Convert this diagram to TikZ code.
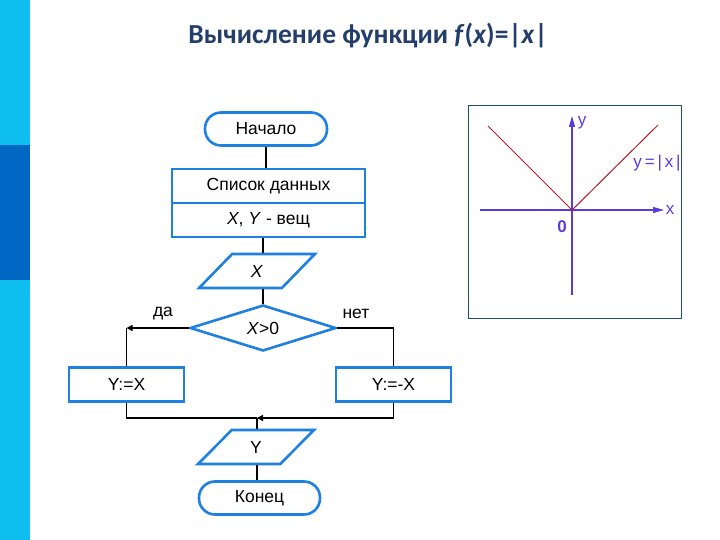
\documentclass[tikz,border=0pt]{standalone}
\usepackage{fontspec}
\setmainfont{Liberation Sans}
\newfontfamily\titlefont{Carlito}
\usetikzlibrary{shapes.geometric,arrows.meta,calc}
\definecolor{stripl}{RGB}{14,190,238}
\definecolor{stripd}{RGB}{0,102,196}
\definecolor{titlec}{RGB}{36,62,108}
\definecolor{boxc}{RGB}{30,128,224}
\definecolor{axisc}{RGB}{88,60,220}
\definecolor{curvec}{RGB}{175,30,35}
\definecolor{framec}{RGB}{30,80,100}
\begin{document}
\begin{tikzpicture}[x=1pt,y=-1pt,
  every node/.style={font=\fontsize{17.5}{20}\selectfont},
  blk/.style={draw=boxc,line width=2.6pt},
  term/.style={blk,rectangle,rounded corners=16pt,minimum height=33pt,inner sep=0pt},
  procbox/.style={blk,rectangle,minimum height=34pt,inner sep=0pt},
  para/.style={blk,trapezium,trapezium left angle=56,trapezium right angle=124,trapezium stretches=true,minimum width=116pt,minimum height=34pt,inner sep=0pt},
  dec/.style={blk,diamond,minimum width=146pt,minimum height=46pt,inner sep=0pt},
  conn/.style={line width=1.4pt,black},
  arr/.style={conn,-{Triangle[length=6pt,width=6pt]}},
  glab/.style={text=axisc,font=\fontsize{17}{19}\selectfont,inner sep=0pt}]
\useasboundingbox (0,0) rectangle (720,540);
% side strip
\fill[stripl] (0,0) rectangle (30,145);
\fill[stripd] (0,145) rectangle (30,280);
\fill[stripl] (0,280) rectangle (30,540);
% title
\node[font=\titlefont\fontsize{27.5}{30}\selectfont\bfseries,text=titlec] (title) at (368,36) {Вычисление функции \textit{f}(\textit{x})=|\textit{x}|};
% flowchart
\node[term,minimum width=122pt] (start) at (266,129) {Начало};
\node[procbox,minimum width=193pt] (list1) at (268.5,186) {Список данных};
\node[procbox,minimum width=193pt] (list2) at (268.5,220) {\textit{X}, \textit{Y} - вещ};
\node[para] (inX) at (257,271) {\textit{X}};
\node[dec] (cond) at (263,328) {\textit{X}>0};
\node (yeslab) at (163,314) {да};
\node (nolab) at (356,314) {нет};
\node[procbox,minimum width=115pt] (yes) at (126.5,384.5) {Y:=X};
\node[procbox,minimum width=115pt] (no) at (393.5,384.5) {Y:=-X};
\node[para] (outY) at (256,447) {Y};
\node[term,minimum width=121pt] (stop) at (259.5,498) {Конец};
\coordinate (join) at (257,418);
\draw[conn] (start.south) -- (start.south |- list1.north);
\draw[conn] (cond.north |- list2.south) -- (cond.north |- inX.north);
\draw[conn] (cond.north |- inX.south) -- (cond.north);
\draw[arr] (cond.west) -- (yes.north |- cond.west);
\draw[conn] (yes.north |- cond.west) -- (yes.north);
\draw[conn] (cond.east) -| (no.north);
\draw[conn] (yes.south) |- (join);
\draw[arr] (no.south) |- (join);
\draw[conn] (join) -- (join |- outY.north);
\draw[conn] (join |- outY.south) -- (join |- stop.north);
% graph
\draw[framec,line width=0.8pt] (468,105) rectangle (681,318);
\coordinate (o) at (572,210);
\draw[axisc,line width=1.2pt,-{Triangle[length=11pt,width=6pt]}] (480,210) -- (664,210);
\draw[axisc,line width=1.2pt,-{Triangle[length=11pt,width=6pt]}] (572,295) -- (572,116);
\draw[curvec,line width=1pt] (488,126) -- (o) -- (658,125);
\node[glab] (ylab) at (582,123) {y};
\node[glab] (xlab) at (670,210) {x};
\node[glab,font=\fontsize{17}{19}\selectfont\bfseries] (zlab) at (562,227) {0};
\node[glab] (flab) at (657,163) {y\,=\,|\,x\,|};
\end{tikzpicture}
\end{document}
